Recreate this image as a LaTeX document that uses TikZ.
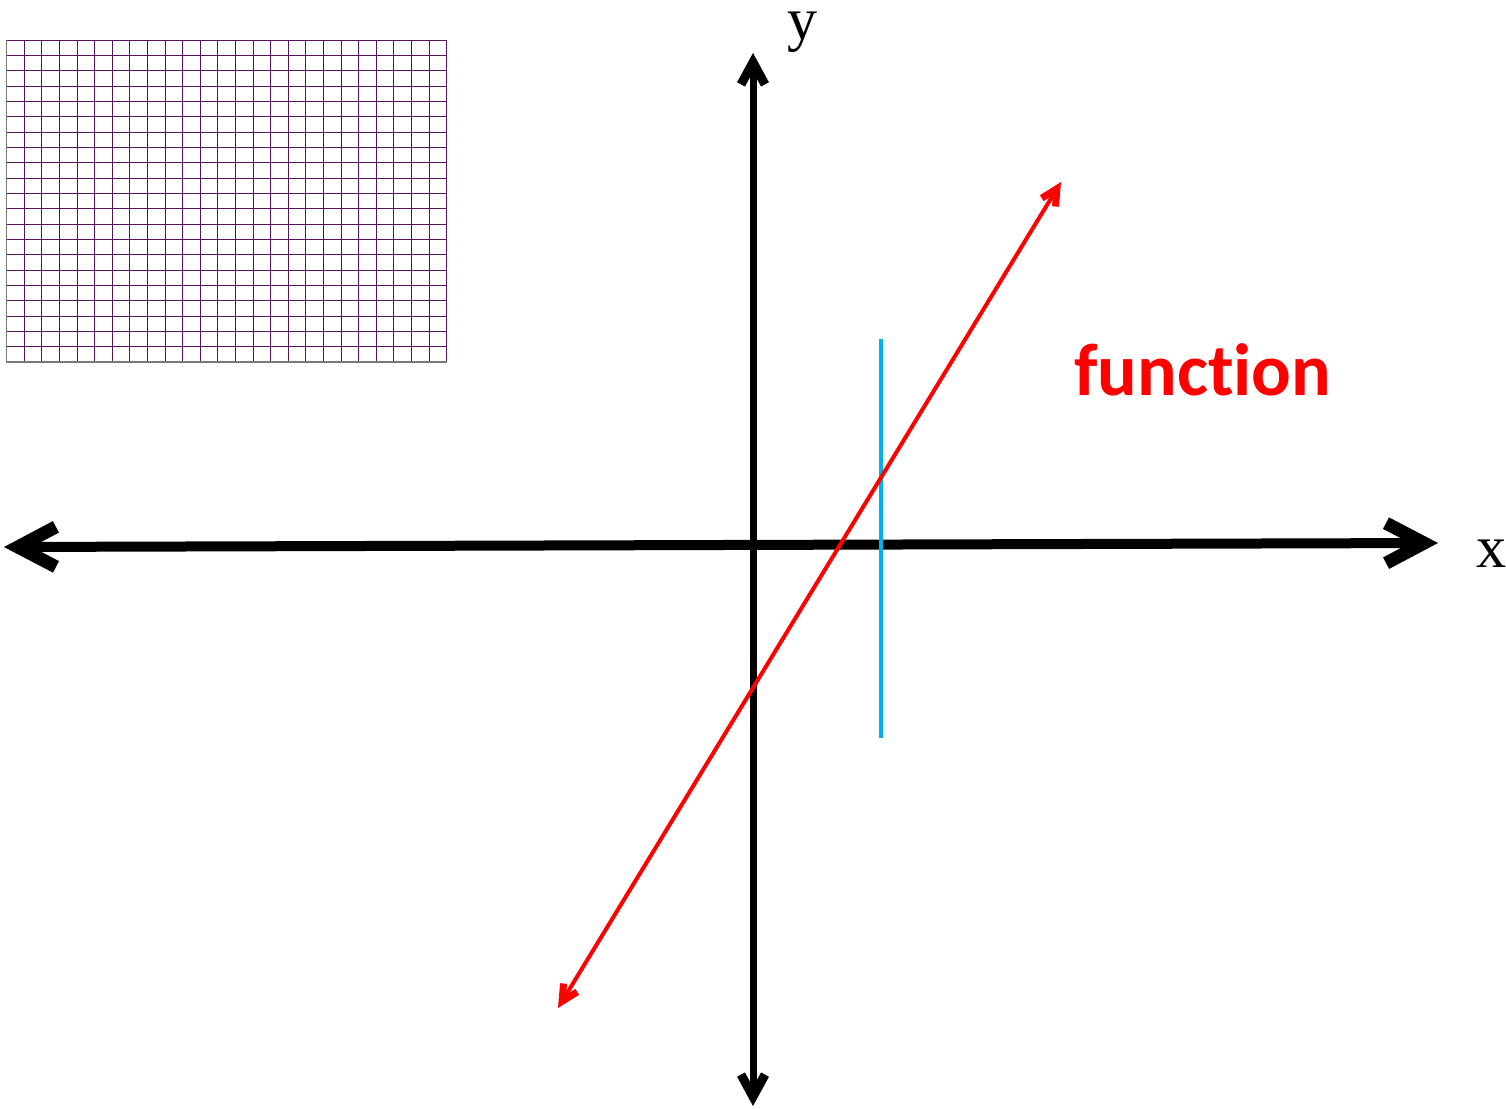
\documentclass[tikz,border=0pt]{standalone}
\usepackage{fontspec}
\setmainfont{Liberation Serif}
\newfontfamily\calib[Ligatures={NoCommon,NoRequired,NoContextual}]{Carlito}
\usetikzlibrary{arrows.meta}
\definecolor{gridcol}{RGB}{85,20,90}
\definecolor{edgegray}{RGB}{120,120,120}
\definecolor{vblue}{RGB}{0,176,240}
\definecolor{fred}{RGB}{255,0,0}
\tikzset{
  gridline/.style={draw=gridcol, line width=0.9pt},
  axisx/.style={line width=10pt, {Straight Barb[length=38pt, width=40pt, line width=13pt, sharp]}-{Straight Barb[length=38pt, width=40pt, line width=13pt, sharp]}},
  axisy/.style={line width=7pt, {Straight Barb[length=22pt, width=24pt, line width=9pt, sharp]}-{Straight Barb[length=22pt, width=24pt, line width=9pt, sharp]}},
  funcline/.style={draw=fred, line width=4pt, {Straight Barb[length=16pt, width=16pt, line width=7pt, sharp]}-{Straight Barb[length=16pt, width=16pt, line width=7pt, sharp]}},
  vline/.style={draw=vblue, line width=4pt},
  axlabel/.style={inner sep=0pt, anchor=base west, text height=1ex, font=\fontsize{60}{66}\selectfont},
  funclabel/.style={inner sep=0pt, anchor=base west, text=fred, font=\calib\bfseries\fontsize{74}{80}\selectfont}
}
\begin{document}
\begin{tikzpicture}[x=1pt, y=-1pt]
\useasboundingbox (0,0) rectangle (1506,1108);
% grid
\foreach \i in {0,...,25} \draw[gridline] ({6.7+\i*17.6},40) -- ({6.7+\i*17.6},362);
\foreach \j in {0,...,21} \draw[gridline] (6.7,{40+\j*15.333}) -- (446.7,{40+\j*15.333});
\draw[draw=edgegray, line width=1.2pt] (6.7,40) -- (6.7,362) -- (446.7,362);
% axes
\coordinate (xl) at (4,547);
\coordinate (xr) at (1438,543);
\coordinate (yt) at (753,53);
\coordinate (yb) at (753,1106);
\draw[axisx] (xl) -- (xr);
\draw[axisy] (yb) -- (yt);
% vertical test line
\coordinate (vt) at (881,339);
\coordinate (vb) at (881,738);
\draw[vline] (vt) -- (vb);
% function line
\coordinate (fl) at (558,1008);
\coordinate (fu) at (1061,182);
\draw[funcline] (fl) -- (fu);
% labels
\node[axlabel] (ylab) at (787,40) {y};
\node[axlabel] (xlab) at (1476,567) {x};
\node[funclabel] (flab) at (1074,395) {function};
\end{tikzpicture}
\end{document}
